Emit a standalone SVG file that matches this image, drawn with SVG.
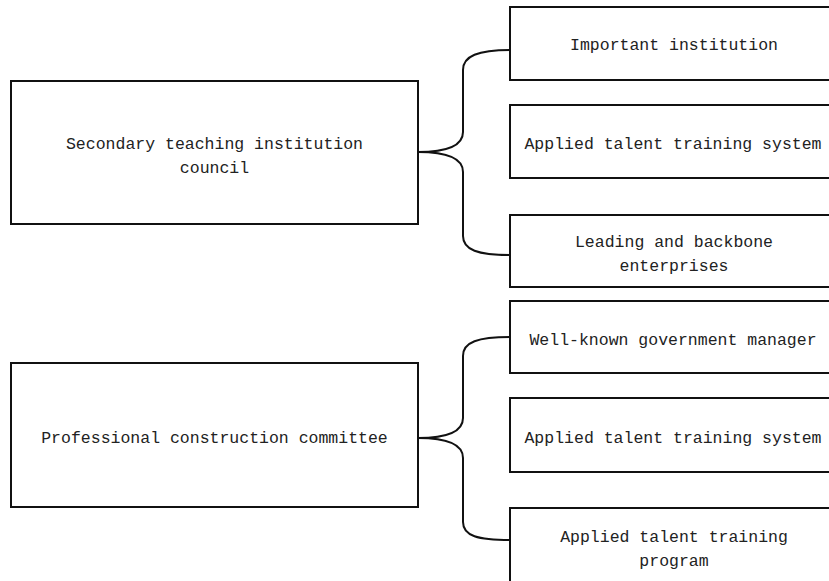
<svg xmlns="http://www.w3.org/2000/svg" width="829" height="581" viewBox="0 0 829 581">
<style>
.box{fill:#fff;stroke:#111;stroke-width:2}
.t{font-family:"Liberation Mono","DejaVu Sans Mono",monospace;font-size:16.5px;fill:#222;text-anchor:middle}
.c{fill:none;stroke:#111;stroke-width:2}
</style>
<rect width="829" height="581" fill="#fff"/>
<g id="connectors">
<path class="c" d="M418,152 C448,152 463,146 463,132 L463,70 C463,56 478,50 510,50"/>
<path class="c" d="M418,152 C448,152 463,158 463,172 L463,236 C463,250 478,255 510,255"/>
<path class="c" d="M418,438 C448,438 463,432 463,418 L463,356 C463,342 478,337 510,337"/>
<path class="c" d="M418,438 C448,438 463,444 463,458 L463,522 C463,536 478,540 510,540"/>
</g>
<g id="n1"><rect class="box" x="11" y="81" width="407" height="143"/>
<text class="t" x="214.5" y="149">Secondary teaching institution</text>
<text class="t" x="214.5" y="173">council</text></g>
<g id="n2"><rect class="box" x="11" y="363" width="407" height="144"/>
<text class="t" x="214.5" y="443">Professional construction committee</text></g>
<g id="n3"><rect class="box" x="510" y="7" width="330" height="73"/>
<text class="t" x="674" y="50">Important institution</text></g>
<g id="n4"><rect class="box" x="510" y="105" width="330" height="73"/>
<text class="t" x="673" y="149">Applied talent training system</text></g>
<g id="n5"><rect class="box" x="510" y="215" width="330" height="72"/>
<text class="t" x="674" y="247">Leading and backbone</text>
<text class="t" x="674" y="271">enterprises</text></g>
<g id="n6"><rect class="box" x="510" y="301" width="330" height="72"/>
<text class="t" x="673" y="345">Well-known government manager</text></g>
<g id="n7"><rect class="box" x="510" y="398" width="330" height="74"/>
<text class="t" x="673" y="443">Applied talent training system</text></g>
<g id="n8"><rect class="box" x="510" y="508" width="330" height="80"/>
<text class="t" x="674" y="542">Applied talent training</text>
<text class="t" x="674" y="566">program</text></g>
</svg>
